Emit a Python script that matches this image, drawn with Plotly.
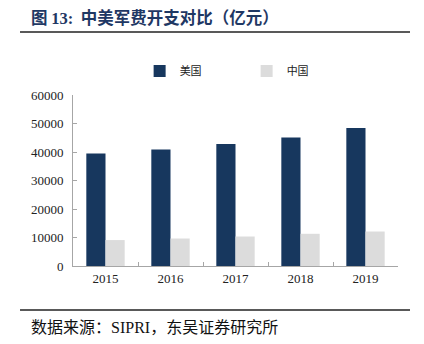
import plotly.graph_objects as go

years = ["2015", "2016", "2017", "2018", "2019"]
usa = [39500, 40900, 42800, 45100, 48400]
china = [9100, 9650, 10350, 11300, 12100]
y_ticks = [0, 10000, 20000, 30000, 40000, 50000, 60000]

serif = "Times New Roman, Liberation Serif, serif"
cjk = "Noto Sans CJK SC, sans-serif"

PLOT_H = 344 - 95 - 78  # 171


def py(pix):
    """paper y for a pixel row"""
    return (266 - pix) / PLOT_H


fig = go.Figure()
fig.add_trace(go.Bar(x=years, y=usa, name="美国", marker_color="#17375e", marker_line_width=0))
fig.add_trace(go.Bar(x=years, y=china, name="中国", marker_color="#dcdcdc", marker_line_width=0))

fig.update_layout(
    width=424, height=344,
    margin=dict(l=73, r=26, t=95, b=78),
    paper_bgcolor="white", plot_bgcolor="white",
    barmode="group", bargap=0.41, bargroupgap=0,
    showlegend=True,
    legend=dict(orientation="h", x=0.205, xanchor="left", y=py(71), yanchor="middle",
                font=dict(family=cjk, size=11, color="#222"), itemwidth=30,
                entrywidth=62),
    xaxis=dict(showline=True, linecolor="#a6a6a6", linewidth=1, ticks="inside",
               tickson="boundaries", ticklen=4, tickcolor="#a6a6a6",
               tickfont=dict(family=serif, size=13, color="#222"), showgrid=False),
    yaxis=dict(range=[0, 60000], tickvals=y_ticks, tickformat="d", showline=True,
               linecolor="#a6a6a6", linewidth=1, ticks="inside", ticklen=4,
               tickcolor="#a6a6a6", tickfont=dict(family=serif, size=13, color="#222"),
               showgrid=False, zeroline=False, ticklabelstandoff=6),
    font=dict(family=serif),
)

fig.add_annotation(
    text=("<b>图 <span style='font-family:Times New Roman, Liberation Serif'>13:</span>"
          "  中美军费开支对比（亿元）</b>"),
    xref="paper", yref="paper", x=-0.136, y=py(17), xanchor="left", yanchor="middle",
    showarrow=False, font=dict(family=cjk, size=16.5, color="#1f3864"))
fig.add_shape(type="line", xref="paper", yref="paper", x0=-0.163, x1=1.037,
              y0=py(32), y1=py(32), line=dict(color="#222", width=1.5))
fig.add_shape(type="line", xref="paper", yref="paper", x0=-0.163, x1=1.037,
              y0=py(310), y1=py(310), line=dict(color="#222", width=1.5))
fig.add_annotation(
    text=("数据来源：<span style='font-family:Times New Roman, Liberation Serif'>SIPRI</span>"
          "，东吴证券研究所"),
    xref="paper", yref="paper", x=-0.136, y=py(326), xanchor="left", yanchor="middle",
    showarrow=False, font=dict(family=cjk, size=16, color="#111"))

fig.write_html("out.html")
